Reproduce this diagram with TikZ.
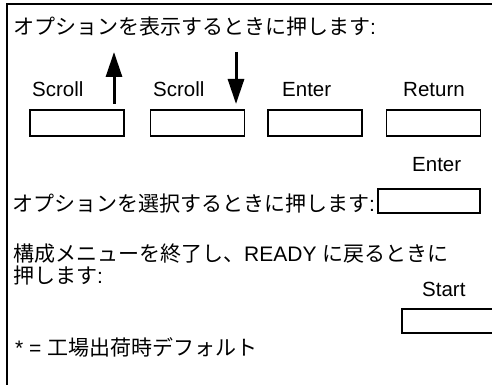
\documentclass[tikz,border=0pt]{standalone}
\usepackage{fontspec}
\setmainfont{Liberation Sans}
\newfontfamily\jp{Noto Sans CJK JP}
\usetikzlibrary{arrows.meta}
\tikzset{
  keybox/.style={draw, line width=1.3pt, minimum width=94pt, minimum height=26pt, inner sep=0pt},
  lbl/.style={anchor=base west, inner sep=0pt, font=\fontsize{20.5}{24}\selectfont},
  jtxt/.style={anchor=base west, inner sep=0pt, font=\fontsize{21}{25}\selectfont},
  bigarrow/.style={line width=3pt, -{Triangle[length=25pt,width=16pt]}},
  frame/.style={line width=1.5pt}
}
\begin{document}
\begin{tikzpicture}[x=1pt,y=-1pt]
\useasboundingbox (0,0) rectangle (492,385);
\begin{scope}
\clip (0,0) rectangle (492,385);
% frame
\coordinate (ftr) at (493,4);
\coordinate (ftl) at (7,4);
\coordinate (fbl) at (7,386);
\draw[frame] (ftr) -- (ftl) -- (fbl);

% title
\node[jtxt] (t1) at (13,35) {{\jp オプションを表示するときに押します}:};

% key labels row 1
\node[lbl] (s1) at (32,97) {Scroll};
\node[lbl] (s2) at (153,97) {Scroll};
\node[lbl] (e1) at (282,97) {Enter};
\node[lbl] (r1) at (403,97) {Return};

% arrows
\coordinate (ua) at (114,104);
\coordinate (ub) at (114,52);
\draw[bigarrow] (ua) -- (ub);
\coordinate (da) at (236,52);
\coordinate (db) at (236,104);
\draw[bigarrow] (da) -- (db);

% boxes row 1
\node[keybox] (b1) at (77,123) {};
\node[keybox] (b2) at (197.5,123) {};
\node[keybox] (b3) at (315,123) {};
\node[keybox] (b4) at (433.5,123) {};

% select row
\node[lbl] (e2) at (412,171) {Enter};
\node[jtxt] (t2) at (12,211) {{\jp オプションを選択するときに押します}:};
\node[keybox, minimum width=102pt, minimum height=24pt] (b5) at (429,201) {};

% exit
\node[jtxt] (t3) at (13,261) {{\jp 構成メニューを終了し、}READY {\jp に戻るときに}};
\node[jtxt] (t4) at (13,283) {{\jp 押します}:};
\node[lbl] (st) at (422,296) {Start};
\node[keybox, minimum height=24pt] (b6) at (449,321) {};

% footnote
\node[jtxt] (t5) at (15,355) {* = {\jp 工場出荷時デフォルト}};
\end{scope}
\end{tikzpicture}
\end{document}
